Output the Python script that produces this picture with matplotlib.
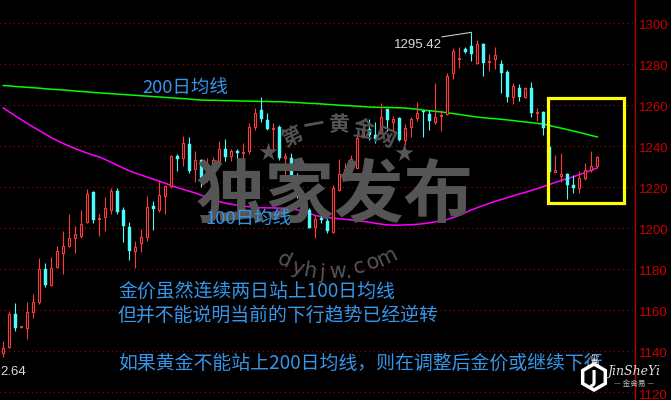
import matplotlib
matplotlib.use('Agg')
import matplotlib.pyplot as plt
import matplotlib.transforms as mtransforms
from matplotlib.patches import Rectangle, Polygon

plt.rcParams['font.family'] = ['Noto Sans CJK SC', 'DejaVu Sans']

# daily candles, oldest first
opens = [1139, 1142, 1158, 1151.5, 1151, 1159, 1164, 1180, 1172, 1181,
         1188, 1191, 1195, 1196, 1203, 1217.5, 1204.5, 1205.4, 1209, 1218,
         1209, 1200.5, 1189, 1192.7, 1195.6, 1210.5, 1209, 1215.6, 1220.5, 1235,
         1234, 1241, 1229, 1233, 1225.8, 1227.8, 1232.7, 1238.5, 1235, 1237.6,
         1236.6, 1237.6, 1249.3, 1257.6, 1252.7, 1248.5, 1249.3, 1234, 1234, 1225.4,
         1215.6, 1209, 1200.5, 1205, 1203.4, 1198, 1218.5, 1226.8, 1229.8, 1229.3,
         1244.4, 1248.3, 1245.4, 1246.3, 1258, 1251.7, 1253.7, 1243, 1249.3, 1253.7,
         1257, 1255.6, 1251.7, 1254.6, 1255.6, 1275.6, 1282.4, 1287.3, 1288.8, 1280.5,
         1289.8, 1281, 1282.4, 1280, 1276, 1264, 1268.3, 1264, 1268.3, 1256.3,
         1256.6, 1239.5, 1227.3, 1225.4, 1226.3, 1221, 1219.5, 1224.4, 1228.3, 1230.2]
highs = [1145, 1159.5, 1163.4, 1152.2, 1164, 1168, 1185.4, 1183, 1186, 1191,
         1198.5, 1207, 1201, 1209, 1219, 1218, 1206.8, 1215, 1219.5, 1219.5,
         1210, 1203, 1193.6, 1199.5, 1215.6, 1213, 1223, 1221, 1235.6, 1236,
         1245, 1244.4, 1237.6, 1233.7, 1234, 1234.6, 1242.4, 1243.4, 1238.5, 1238.5,
         1241.5, 1251.2, 1258.5, 1264, 1256, 1251, 1250.2, 1236.6, 1236.6, 1227,
         1217, 1209.8, 1206.3, 1211, 1205.4, 1221, 1233.7, 1231.7, 1235.6, 1246.3,
         1251.7, 1253, 1251.7, 1261, 1258, 1254.6, 1254, 1250.7, 1254, 1261.5,
         1257.6, 1257.6, 1270.7, 1257.6, 1275.6, 1287.8, 1288.3, 1288.3, 1295.42, 1291.7,
         1290.2, 1285, 1288.3, 1282, 1277, 1270.7, 1270, 1268.8, 1271.2, 1258.5,
         1257, 1241, 1235.6, 1236.6, 1226.8, 1225.8, 1227.8, 1231.7, 1237.6, 1235]
lows = [1137, 1141.5, 1149.8, 1151, 1146, 1156, 1163, 1171, 1171.5, 1180.5,
        1177.6, 1190.5, 1188, 1195, 1202.4, 1202.4, 1196, 1198.5, 1206.8, 1206.8,
        1193, 1184.4, 1180.5, 1188.3, 1193.7, 1199, 1208, 1207, 1219.5, 1228,
        1230, 1227, 1222.4, 1220, 1222.4, 1217.6, 1230.7, 1232.7, 1232.7, 1227,
        1231.7, 1236, 1248, 1251.7, 1247.8, 1237, 1233, 1223.4, 1224, 1214.6,
        1206.8, 1200, 1195, 1202.4, 1197.6, 1197.6, 1218, 1224.9, 1228.3, 1229.3,
        1243.9, 1243, 1241.5, 1246, 1247.3, 1247.3, 1242.4, 1240.5, 1244.4, 1252,
        1244.4, 1247.8, 1250.7, 1247.3, 1255, 1272.7, 1278, 1285.4, 1281.5, 1280,
        1274, 1276.6, 1277.6, 1265.9, 1261.5, 1260.5, 1262, 1263.4, 1254, 1252.2,
        1245.4, 1224.9, 1226.8, 1222.4, 1214, 1217, 1217, 1223.4, 1227.3, 1229.8]
closes = [1141.5, 1158, 1151, 1152, 1159, 1164, 1180, 1172, 1180.5, 1189,
          1191, 1195, 1197, 1202, 1216.6, 1204, 1205, 1209.8, 1218, 1208,
          1201, 1189, 1190.7, 1195.6, 1210, 1209.5, 1216, 1220.5, 1235, 1233.5,
          1241.5, 1228, 1233, 1224.4, 1228.3, 1233, 1238.5, 1234.6, 1237.5, 1236.6,
          1237.1, 1249.3, 1256, 1253, 1248.3, 1248.8, 1234, 1235, 1225.4, 1217,
          1207, 1200, 1204.4, 1204, 1198.5, 1219.5, 1226.3, 1228.8, 1233.7, 1244,
          1248.3, 1245.4, 1243.4, 1254, 1252.7, 1253.2, 1243, 1248.8, 1253.2, 1256,
          1256.6, 1252.2, 1254, 1255, 1274, 1286.3, 1283, 1285.9, 1284.9, 1289.8,
          1280.5, 1281.5, 1284.4, 1275.6, 1264, 1269.3, 1264, 1268.3, 1256, 1256.6,
          1248.8, 1227.3, 1228.3, 1226.3, 1221, 1219.5, 1224.4, 1228.3, 1230.2, 1234.6]

# moving averages
ma200 = [1269.5, 1269.3, 1269.0, 1268.8, 1268.6, 1268.4, 1268.2, 1267.9, 1267.7, 1267.5,
         1267.3, 1267.1, 1266.8, 1266.6, 1266.4, 1266.1, 1265.9, 1265.7, 1265.5, 1265.3,
         1265.1, 1264.9, 1264.7, 1264.5, 1264.3, 1264.1, 1263.9, 1263.7, 1263.5, 1263.3,
         1263.1, 1262.9, 1262.6, 1262.4, 1262.3, 1262.3, 1262.2, 1262.1, 1262.1, 1262.0,
         1261.9, 1261.9, 1261.8, 1261.7, 1261.7, 1261.6, 1261.6, 1261.5, 1261.3, 1261.2,
         1261.0, 1260.8, 1260.7, 1260.5, 1260.3, 1260.1, 1259.9, 1259.7, 1259.6, 1259.4,
         1259.2, 1259.0, 1258.9, 1258.8, 1258.8, 1258.7, 1258.6, 1258.5, 1258.2, 1257.9,
         1257.5, 1257.2, 1256.9, 1256.6, 1256.2, 1255.8, 1255.4, 1254.9, 1254.5, 1254.1,
         1253.8, 1253.5, 1253.3, 1253.0, 1252.7, 1252.4, 1252.0, 1251.7, 1251.4, 1251.0,
         1250.7, 1250.0, 1249.3, 1248.7, 1248.0, 1247.3, 1246.6, 1245.9, 1245.1, 1244.4]
ma100 = [1258.5, 1256.6, 1254.7, 1252.8, 1251.0, 1249.2, 1247.5, 1245.8, 1244.1, 1242.6,
         1241.2, 1239.9, 1238.7, 1237.6, 1236.5, 1235.5, 1234.6, 1233.4, 1232.0, 1230.6,
         1229.2, 1227.9, 1226.8, 1225.8, 1224.8, 1223.8, 1222.8, 1221.8, 1220.7, 1219.7,
         1218.8, 1217.9, 1217.1, 1216.0, 1214.8, 1213.7, 1212.9, 1212.1, 1211.6, 1211.1,
         1210.7, 1210.3, 1210.0, 1209.9, 1209.8, 1209.8, 1209.7, 1209.6, 1209.4, 1208.8,
         1208.0, 1207.1, 1206.1, 1205.5, 1205.2, 1204.8, 1204.5, 1204.2, 1203.9, 1203.6,
         1203.2, 1202.8, 1202.3, 1201.9, 1201.5, 1201.4, 1201.4, 1201.5, 1201.6, 1201.8,
         1202.1, 1202.5, 1203.0, 1203.6, 1204.2, 1205.1, 1206.2, 1207.5, 1208.8, 1209.9,
         1211.0, 1212.0, 1213.0, 1213.9, 1214.8, 1215.7, 1216.6, 1217.4, 1218.3, 1219.2,
         1220.2, 1221.2, 1222.2, 1223.2, 1224.1, 1225.0, 1226.0, 1227.1, 1228.2, 1229.3]

price_ticks = [1120, 1140, 1160, 1180, 1200, 1220, 1240, 1260, 1280, 1300]
high_label = '1295.42'
low_label = '2.64'

RED = '#ff3a3a'
CYAN = '#50fafa'
BLUE = '#3596ea'
WM = '#555555'

W, H = 671, 400
fig = plt.figure(figsize=(W / 100, H / 100), dpi=100, facecolor='black')
ax = fig.add_axes([0, 0, 635 / W, 1])
ax.set_facecolor('black')
ax.set_xlim(-0.55, 105.28)
ax.set_ylim(1116.1, 1311.2)


def px(x, y):
    # figure pixel position (from top-left) -> figure fraction
    return x / W, 1 - y / H


# watermark
fig.text(*px(335, 198), '独家发布', fontsize=50, fontweight='bold', color=WM,
         ha='center', va='center', zorder=0.2)
for ch, (x, y, r) in zip('第一黄金网', [(292, 137, 25), (314, 126, 10), (338, 125, 0),
                                    (363, 129, -10), (384, 138, -25)]):
    fig.text(*px(x, y), ch, fontsize=15, fontweight='bold', color=WM, rotation=r,
             ha='center', va='center', rotation_mode='anchor', zorder=0.2)
for x, y in [(268, 153), (404, 154)]:
    fig.text(*px(x, y), '★', family='DejaVu Sans', fontsize=17, color=WM,
             ha='center', va='center', zorder=0.2)
for ch, (x, y, r) in zip('dyhjw.com', [(284, 260, -25), (297, 268, -18), (310, 271, -10),
                                       (322, 273, -4), (337, 272, 2), (348, 272, 6),
                                       (359, 267, 12), (373, 262, 18), (387, 257, 25)]):
    fig.text(*px(x, y), ch, family='DejaVu Sans', fontsize=15, color=WM, rotation=r,
             ha='center', va='center', rotation_mode='anchor', zorder=0.2)

# grid and right axis
for t in price_ticks:
    ax.axhline(t, color='#a80000', lw=0.8, ls=(0, (1, 3)), zorder=0.5)
for s in ['top', 'left', 'bottom']:
    ax.spines[s].set_visible(False)
ax.spines['right'].set_color('#b40000')
ax.spines['right'].set_linewidth(1)
ax.set_xticks([])
ax.set_yticks([])
lab_off = mtransforms.ScaledTranslation(4 / 100, -3.5 / 100, fig.dpi_scale_trans)
for t in price_ticks:
    ax.text(1, t, str(t), transform=ax.get_yaxis_transform() + lab_off,
            family='Liberation Sans', fontsize=9.5, color='#c80000',
            ha='left', va='center', clip_on=False)

# moving averages
idx = list(range(len(closes)))
ax.plot(idx, ma200, color='#00ff00', lw=1.1, zorder=2)
ax.plot(idx, ma100, color='#ff00ff', lw=1.1, zorder=2)

# candles: red hollow = up, cyan filled = down
for i, (o, h, l, c) in enumerate(zip(opens, highs, lows, closes)):
    up = c >= o
    col = RED if up else CYAN
    ax.vlines(i, l, h, color=col, lw=0.8, zorder=3)
    lo, hgt = min(o, c), abs(c - o)
    if up:
        ax.add_patch(Rectangle((i - 0.19, lo), 0.38, hgt, facecolor='black',
                               edgecolor=col, lw=0.8, zorder=4))
    else:
        ax.add_patch(Rectangle((i - 0.26, lo), 0.52, max(hgt, 0.3), facecolor=col,
                               edgecolor=col, lw=0.3, zorder=4))

# high / low markers
hi_i = highs.index(max(highs))
ax.plot([hi_i - 4.9, hi_i], [max(highs) - 2.2, max(highs)], color='#c8c8c8', lw=0.8, zorder=4)
fig.text(*px(418, 45), high_label, family='Liberation Sans', fontsize=9.5, color='#d8d8d8',
         ha='center', va='center')
fig.text(*px(0, 372), low_label, family='Liberation Sans', fontsize=9.5, color='#d8d8d8',
         ha='left', va='center')

# highlight box
ax.add_patch(Rectangle((90.78, 1211.95), 103.37 - 90.78, 1263.41 - 1211.95, fill=False,
                       edgecolor='#ffff00', lw=2.3, zorder=5))

# notes
fig.text(*px(142, 89), '200日均线', fontsize=13.3, color=BLUE, ha='left', va='center', zorder=6)
fig.text(*px(205, 220), '100日均线', fontsize=13.3, color=BLUE, ha='left', va='center', zorder=6)
fig.text(*px(118, 291), '金价虽然连续两日站上100日均线', fontsize=13.6, color=BLUE,
         ha='left', va='center', zorder=6)
fig.text(*px(118, 315), '但并不能说明当前的下行趋势已经逆转', fontsize=13.6, color=BLUE,
         ha='left', va='center', zorder=6)
fig.text(*px(118, 363), '如果黄金不能站上200日均线，则在调整后金价或继续下行', fontsize=13.6,
         color=BLUE, ha='left', va='center', zorder=6)

# corner logo
cx, cy, r = 594, 377, 13
hexa = [px(cx + r * dx, cy + r * dy) for dx, dy in
        [(0, -1), (0.87, -0.5), (0.87, 0.5), (0, 1), (-0.87, 0.5), (-0.87, -0.5)]]
fig.add_artist(Polygon(hexa, closed=True, transform=fig.transFigure, facecolor='black',
                       edgecolor='white', lw=2.5, zorder=10))
fig.text(*px(cx, cy + 1), 'J', family='DejaVu Sans', fontsize=12, fontweight='bold',
         color='white', ha='center', va='center', zorder=11)
fig.text(*px(cx, cy - 17), '♛', family='DejaVu Sans', fontsize=9, color='#dddddd',
         ha='center', va='center', zorder=11)
fig.text(*px(634, 371), 'JinSheYi', family='DejaVu Serif', style='italic', fontsize=9,
         color='#dddddd', ha='center', va='center', zorder=11)
fig.text(*px(634, 384), '— 金舍易 —', fontsize=5.5, color='#bbbbbb',
         ha='center', va='center', zorder=11)

fig.savefig('out.png', dpi=100, facecolor='black')
